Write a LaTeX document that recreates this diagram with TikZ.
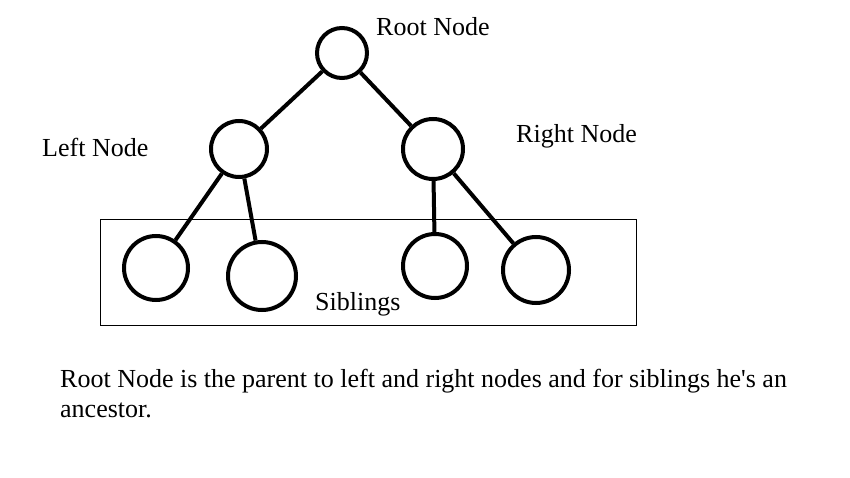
\documentclass[tikz,border=0pt]{standalone}
\usepackage{fontspec}
\setmainfont{Liberation Serif}
\begin{document}
\begin{tikzpicture}[x=1pt,y=-1pt,
    treenode/.style={circle,draw,line width=4pt,inner sep=0pt},
    label text/.style={anchor=west,inner sep=0pt,font=\fontsize{26}{29}\selectfont}]
    \useasboundingbox (0,0) rectangle (850,478);
    % siblings box
    \draw [line width=1pt] (100,220) rectangle (636,325);
    % circles
    \node [treenode, minimum size=50pt] (root)   at (342,53)  {};
    \node [treenode, minimum size=56pt] (left)   at (239,149) {};
    \node [treenode, minimum size=60pt] (right)  at (433,149) {};
    \node [treenode, minimum size=64pt] (leafA)  at (156,268) {};
    \node [treenode, minimum size=68pt] (leafB)  at (262,276) {};
    \node [treenode, minimum size=64pt] (leafC)  at (435,266) {};
    \node [treenode, minimum size=66pt] (leafD)  at (536,270) {};
    % edges
    \begin{scope}[line width=4pt]
    \draw (root) -- (left);
    \draw (root) -- (right);
    \draw (left) -- (leafA);
    \draw (left) -- (leafB);
    \draw (right) -- (leafC);
    \draw (right) -- (leafD);
    \end{scope}
    % labels
    \node [label text] (rootlbl)  at (376,27)  {Root Node};
    \node [label text] (leftlbl)  at (42,147)  {Left Node};
    \node [label text] (rightlbl) at (516,136) {Right Node};
    \node [label text] (sibllbl)  at (315,304) {Siblings};
    \node [label text] (note1)    at (60,381)  {Root Node is the parent to left and right nodes and for siblings he\textquotesingle s an};
    \node [label text] (note2)    at (60,410)  {ancestor.};
\end{tikzpicture}
\end{document}
